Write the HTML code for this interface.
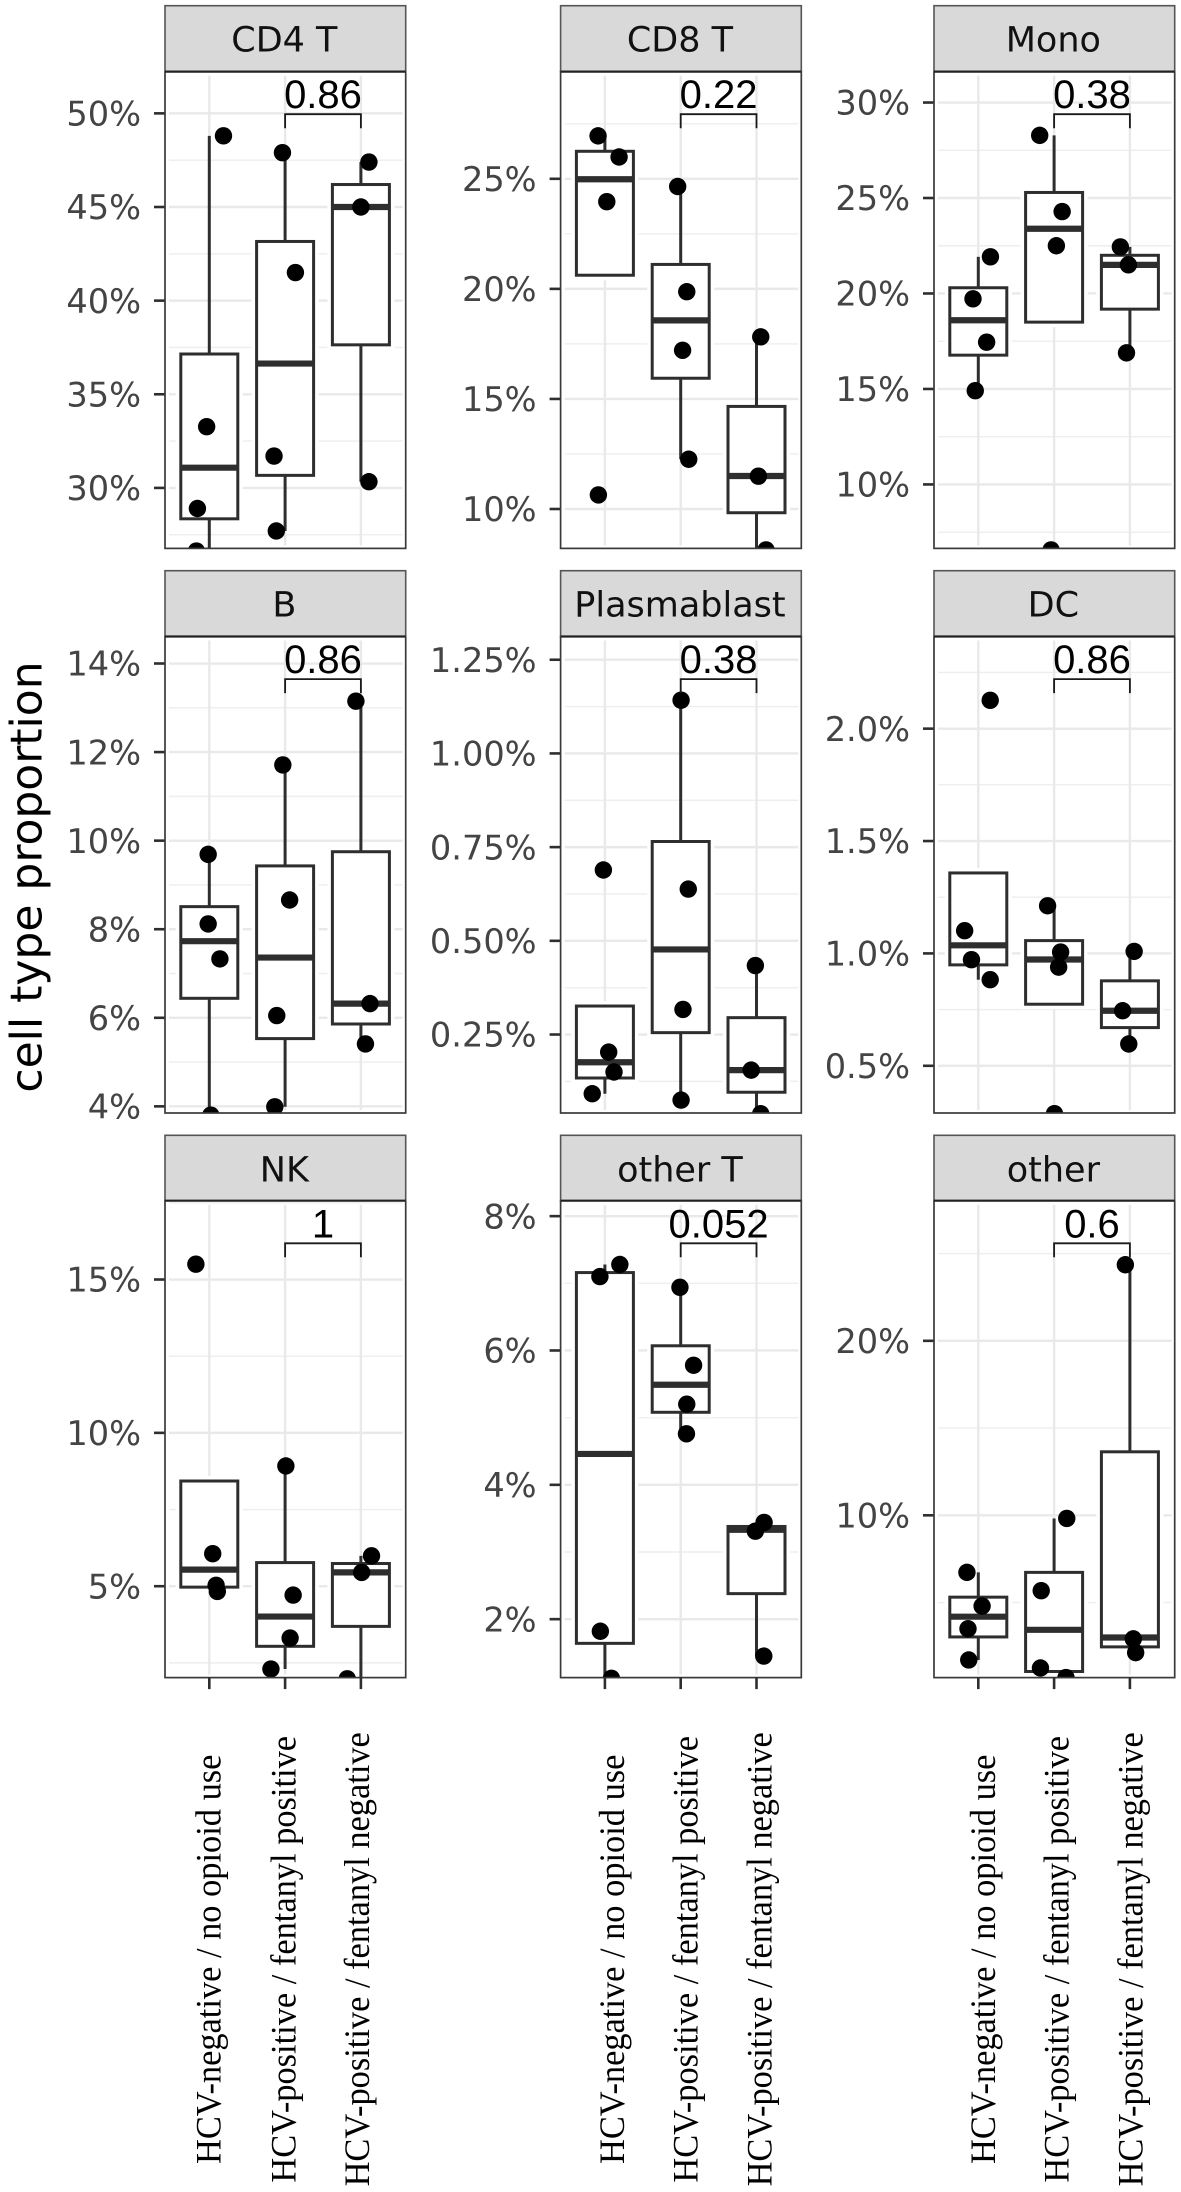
<!DOCTYPE html>
<html lang="en">
<head>
<meta charset="utf-8">
<title>Cell type proportion by group</title>
<style>
html,body{margin:0;padding:0;background:#fff;}
svg{display:block;}
.tick-label{font-family:"DejaVu Sans",sans-serif;font-size:33.6px;fill:#444444;text-anchor:end;}
.strip-label{font-family:"DejaVu Sans",sans-serif;font-size:35px;fill:#111111;text-anchor:middle;}
.p-label{font-family:"Liberation Sans",sans-serif;font-size:40px;fill:#000;text-anchor:middle;}
.x-label{font-family:"Liberation Serif",serif;font-size:34.4px;fill:#000;text-anchor:middle;}
.y-title{font-family:"DejaVu Sans",sans-serif;font-size:44px;fill:#000;text-anchor:middle;}
</style>
</head>
<body>
<svg id="chart" xmlns="http://www.w3.org/2000/svg" width="1181" height="2192" viewBox="0 0 1181 2192">
  <rect x="0" y="0" width="1181" height="2192" fill="#ffffff"/>
  <text class="y-title" transform="translate(41.3 877) rotate(-90)">cell type proportion</text>
</svg>
<script>
const panelTitles = ['CD4 T','CD8 T','Mono','B','Plasmablast','DC','NK','other T','other'];
const pValues = ['0.86','0.22','0.38','0.86','0.38','0.86','1','0.052','0.6'];
const categories = ['HCV-negative / no opioid use','HCV-positive / fentanyl positive','HCV-positive / fentanyl negative'];

const yDomains = [[26.77,52.23],[8.21,29.87],[6.65,31.62],[3.85,14.61],[0.0406,1.312],[0.29,2.41],[2.02,17.57],[1.13,8.23],[0.70,28.03]];
const yTicks = [
  [30,35,40,45,50],[10,15,20,25],[10,15,20,25,30],
  [4,6,8,10,12,14],[0.25,0.5,0.75,1,1.25],[0.5,1,1.5,2],
  [5,10,15],[2,4,6,8],[10,20]
];
const yTickLabels = [
  ['30%','35%','40%','45%','50%'],['10%','15%','20%','25%'],['10%','15%','20%','25%','30%'],
  ['4%','6%','8%','10%','12%','14%'],['0.25%','0.50%','0.75%','1.00%','1.25%'],['0.5%','1.0%','1.5%','2.0%'],
  ['5%','10%','15%'],['2%','4%','6%','8%'],['10%','20%']
];

const boxQ1 = [[28.35,30.67,37.64],[20.62,15.94,9.83],[16.77,18.5,19.18],[6.44,5.53,5.86],[0.134,0.255,0.096],[0.949,0.774,0.67],[4.97,3.04,3.69],[1.64,5.08,2.38],[3.03,1.05,2.46]];
const boxMedian = [[31.08,36.64,45.0],[24.98,18.57,11.5],[18.6,23.39,21.5],[7.73,7.36,6.32],[0.176,0.477,0.155],[1.036,0.973,0.745],[5.54,4.01,5.45],[4.46,5.49,3.33],[4.19,3.44,3.0]];
const boxQ3 = [[37.15,43.16,46.2],[26.25,21.11,14.66],[20.3,25.29,22.0],[8.51,9.43,9.75],[0.326,0.765,0.295],[1.358,1.057,0.878],[8.43,5.77,5.74],[7.16,6.07,3.38],[5.31,6.73,13.64]];
const whiskerLow = [[26.6,27.7,30.33],[20.62,12.26,8.14],[14.91,18.5,16.89],[3.8,3.99,5.41],[0.092,0.075,0.0386],[0.883,0.774,0.597],[4.97,2.3,1.98],[1.12,4.76,1.45],[1.71,1.05,2.13]];
const whiskerHigh = [[48.8,47.9,47.4],[26.95,24.65,17.82],[21.92,28.28,22.44],[9.69,11.71,13.15],[0.326,1.142,0.434],[1.358,1.212,1.009],[8.43,8.92,5.99],[7.28,6.94,3.44],[6.73,9.82,24.36]];

const pointValues = [
  [[48.8,33.27,28.9,26.63],[47.9,41.5,31.7,27.7],[47.4,45.0,30.33]],
  [[26.95,25.99,23.96,10.64],[24.65,19.87,17.21,12.26],[17.82,11.49,8.14]],
  [[21.92,19.72,17.45,14.91],[28.28,24.29,22.5,6.57],[22.44,21.5,16.89]],
  [[9.69,8.12,7.33,3.8],[11.71,8.66,6.05,3.99],[13.15,6.32,5.41]],
  [[0.689,0.203,0.15,0.092],[1.142,0.638,0.317,0.075],[0.434,0.155,0.0386]],
  [[2.126,1.101,0.972,0.883],[1.212,1.006,0.939,0.287],[1.009,0.745,0.597]],
  [[15.5,6.06,5.03,4.83],[8.92,4.71,3.31,2.3],[5.99,5.45,1.98]],
  [[7.28,7.1,1.82,1.12],[6.94,5.78,5.2,4.76],[3.44,3.31,1.45]],
  [[6.73,4.8,3.5,1.71],[9.82,5.68,1.25,0.7],[24.36,2.92,2.13]]
];
const pointJitter = [
  [[0.187,-0.035,-0.157,-0.17],[-0.035,0.136,-0.146,-0.116],[0.106,0,0.106]],
  [[-0.09,0.187,0.025,-0.086],[-0.04,0.08,0.025,0.106],[0.056,0.025,0.126]],
  [[0.16,-0.07,0.11,-0.04],[-0.19,0.106,0.03,-0.04],[-0.126,-0.02,-0.045]],
  [[-0.015,-0.015,0.14,0.02],[-0.03,0.06,-0.11,-0.136],[-0.066,0.12,0.06]],
  [[-0.02,0.05,0.12,-0.167],[0.005,0.1,0.03,0.005],[-0.015,-0.07,0.056]],
  [[0.157,-0.18,-0.09,0.157],[-0.086,0.086,0.06,0.005],[0.056,-0.096,-0.015]],
  [[-0.177,0.045,0.09,0.106],[0.01,0.106,0.066,-0.187],[0.14,0.01,-0.18]],
  [[0.197,-0.066,-0.06,0.086],[-0.01,0.17,0.08,0.076],[0.1,-0.015,0.096]],
  [[-0.15,0.05,-0.136,-0.126],[0.167,-0.17,-0.18,0.157],[-0.06,0.045,0.076]]
];

const colLeft = [165,560.6,934];
const panelWidth = 240.7;
const stripTop = [5.7,570.7,1135.3];
const panelTop = [71.6,636.5,1200.7];
const panelBottom = [548.4,1113,1677.6];
const labelOffsets = [[11.4,10.2,8.1],[19.1,16.6,15.2],[16.7,14.6,12.4]];

const NS = 'http://www.w3.org/2000/svg';
const svg = document.getElementById('chart');
function make(parent, tag, attrs, text){
  const node = document.createElementNS(NS, tag);
  for (const k in attrs) node.setAttribute(k, attrs[k]);
  if (text !== undefined) node.textContent = text;
  parent.appendChild(node);
  return node;
}
function slug(s){ return s.toLowerCase().replace(/[^a-z0-9]+/g,'-'); }
function xScale(col, pos){ return colLeft[col] + 44.3 + 75.8 * pos; }
function yScale(p, row, v){
  const d = yDomains[p];
  return panelBottom[row] - (v - d[0]) / (d[1] - d[0]) * (panelBottom[row] - panelTop[row]);
}

panelTitles.forEach(function(title, p){
  const col = p % 3, row = Math.floor(p / 3);
  const left = colLeft[col], right = left + panelWidth;
  const top = panelTop[row], bottom = panelBottom[row];
  const id = slug(title);

  const g = make(svg, 'g', {});
  
  

  const defs = make(g, 'defs', {});
  const clip = make(defs, 'clipPath', {id: 'clip-' + p});
  make(clip, 'rect', {x: left, y: top, width: panelWidth, height: bottom - top});

  const ticks = yTicks[p];
  const step = ticks[1] - ticks[0];
  const d = yDomains[p];
  for (let m = ticks[0] - step / 2; m < d[1]; m += step) {
    if (m <= d[0]) continue;
    const y = yScale(p, row, m);
    const minor = make(g, 'line', {x1: left + 4, x2: right - 3, y1: y, y2: y, stroke: '#eeeeee', 'stroke-width': 1.4});
    
    
  }
  ticks.forEach(function(v, i){
    const y = yScale(p, row, v);
    const grid = make(g, 'line', {x1: left + 4, x2: right - 3, y1: y, y2: y, stroke: '#e9e9e9', 'stroke-width': 2.4});
    
    
    const tick = make(g, 'line', {x1: left - 11, x2: left, y1: y, y2: y, stroke: '#2e2e2e', 'stroke-width': 2.6});
    
    
    const label = make(g, 'text', {class: 'tick-label', x: left - 24, y: y + 12.2}, yTickLabels[p][i]);
    
    
  });
  categories.forEach(function(c, i){
    const x = xScale(col, i);
    const vg = make(g, 'line', {x1: x, x2: x, y1: top + 4, y2: bottom - 3, stroke: '#e9e9e9', 'stroke-width': 2.4});
    
    
  });

  const marks = make(g, 'g', {'clip-path': 'url(#clip-' + p + ')'});
  
  

  categories.forEach(function(c, i){
    const x = xScale(col, i);
    const q1 = yScale(p, row, boxQ1[p][i]);
    const q3 = yScale(p, row, boxQ3[p][i]);
    const halo = make(marks, 'rect', {x: x - 33.5, y: q3 - 5, width: 67, height: q1 - q3 + 10, fill: '#ffffff'});
    
    
  });
  categories.forEach(function(c, i){
    const x = xScale(col, i);
    const q1 = yScale(p, row, boxQ1[p][i]);
    const q3 = yScale(p, row, boxQ3[p][i]);
    const med = yScale(p, row, boxMedian[p][i]);
    const wl = yScale(p, row, whiskerLow[p][i]);
    const wh = yScale(p, row, whiskerHigh[p][i]);

    const upper = make(marks, 'line', {x1: x, x2: x, y1: q3, y2: wh, stroke: '#2e2e2e', 'stroke-width': 3});
    
    
    const lower = make(marks, 'line', {x1: x, x2: x, y1: q1, y2: wl, stroke: '#2e2e2e', 'stroke-width': 3});
    
    
    const box = make(marks, 'rect', {x: x - 28.5, y: q3, width: 57, height: q1 - q3, fill: '#ffffff', stroke: '#2e2e2e', 'stroke-width': 3});
    
    
    const median = make(marks, 'line', {x1: x - 28.5, x2: x + 28.5, y1: med, y2: med, stroke: '#2e2e2e', 'stroke-width': 6.2});
    
    
  });
  categories.forEach(function(c, i){
    pointValues[p][i].forEach(function(v, k){
      const pt = make(marks, 'circle', {cx: xScale(col, i + pointJitter[p][i][k]), cy: yScale(p, row, v), r: 8.7, fill: '#000000'});
      
      
    });
  });

  const bx1 = xScale(col, 1), bx2 = xScale(col, 2), by = top + 42.6;
  const bracket = make(g, 'path', {d: 'M' + bx1 + ' ' + (by + 14) + 'V' + by + 'H' + bx2 + 'V' + (by + 14), fill: 'none', stroke: '#1a1a1a', 'stroke-width': 1.8});
  
  
  const pl = make(g, 'text', {class: 'p-label', x: (bx1 + bx2) / 2, y: by - 6}, pValues[p]);
  
  

  const frame = make(g, 'rect', {x: left, y: top, width: panelWidth, height: bottom - top, fill: 'none', stroke: '#3a3a3a', 'stroke-width': 1.7});
  
  

  const strip = make(g, 'rect', {x: left, y: stripTop[row], width: panelWidth, height: top - stripTop[row], fill: '#d9d9d9', stroke: '#555555', 'stroke-width': 1.6});
  
  
  const stripLine = make(g, 'line', {x1: left, x2: right, y1: top, y2: top, stroke: '#222222', 'stroke-width': 2.2});
  
  
  const st = make(g, 'text', {class: 'strip-label', x: left + panelWidth / 2 - 1, y: stripTop[row] + 46}, title);
  
  

  if (row === 2) {
    categories.forEach(function(c, i){
      const x = xScale(col, i);
      const t = make(g, 'line', {x1: x, x2: x, y1: bottom, y2: bottom + 11.5, stroke: '#2e2e2e', 'stroke-width': 2.6});
      
      
      const lab = make(g, 'text', {class: 'x-label', transform: 'translate(' + (x + labelOffsets[col][i]) + ' 1959.3) rotate(-90) scale(1 1.055)'}, c);
      
      
    });
  }
});
</script>
</body>
</html>
